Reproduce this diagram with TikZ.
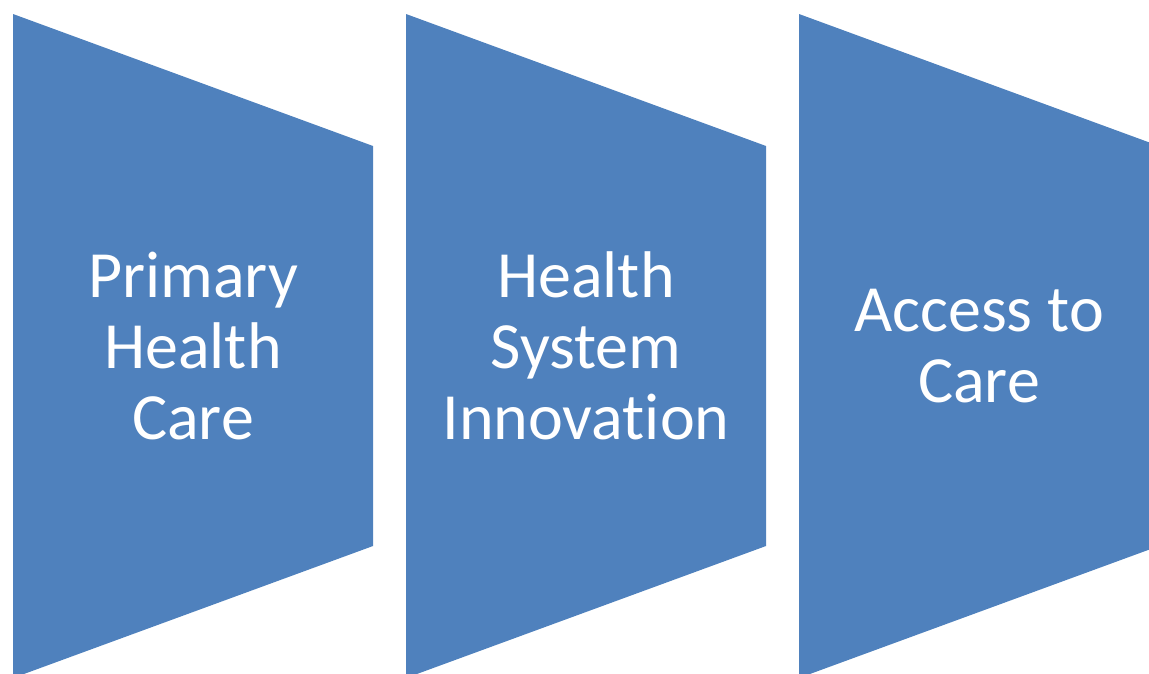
\documentclass[tikz,border=0pt]{standalone}
\usepackage{fontspec}
\setmainfont{Carlito}[RawFeature=-liga]
\definecolor{shapeblue}{HTML}{4F81BD}
\tikzset{
  chevron/.style={fill=shapeblue, draw=none},
  label/.style={text=white, align=center, font=\fontsize{66}{71}\selectfont, inner sep=0pt}
}
\begin{document}
\begin{tikzpicture}[x=1pt,y=-1pt]
\useasboundingbox (0,0) rectangle (1149,673);
\clip (0,0) rectangle (1149,673);
\foreach \x/\n in {13/a,406/b,799/c}{
  \fill[chevron] (\x,14) -- (\x+360,146) -- (\x+360,546) -- (\x,678) -- cycle;
  \coordinate (\n) at (\x+180,346);
}
\node[label] (ta) at (a) {Primary\\Health\\Care};
\node[label] (tb) at (b) {Health\\System\\Innovation};
\node[label] (tc) at (c) {Access to\\Care};
\end{tikzpicture}
\end{document}
